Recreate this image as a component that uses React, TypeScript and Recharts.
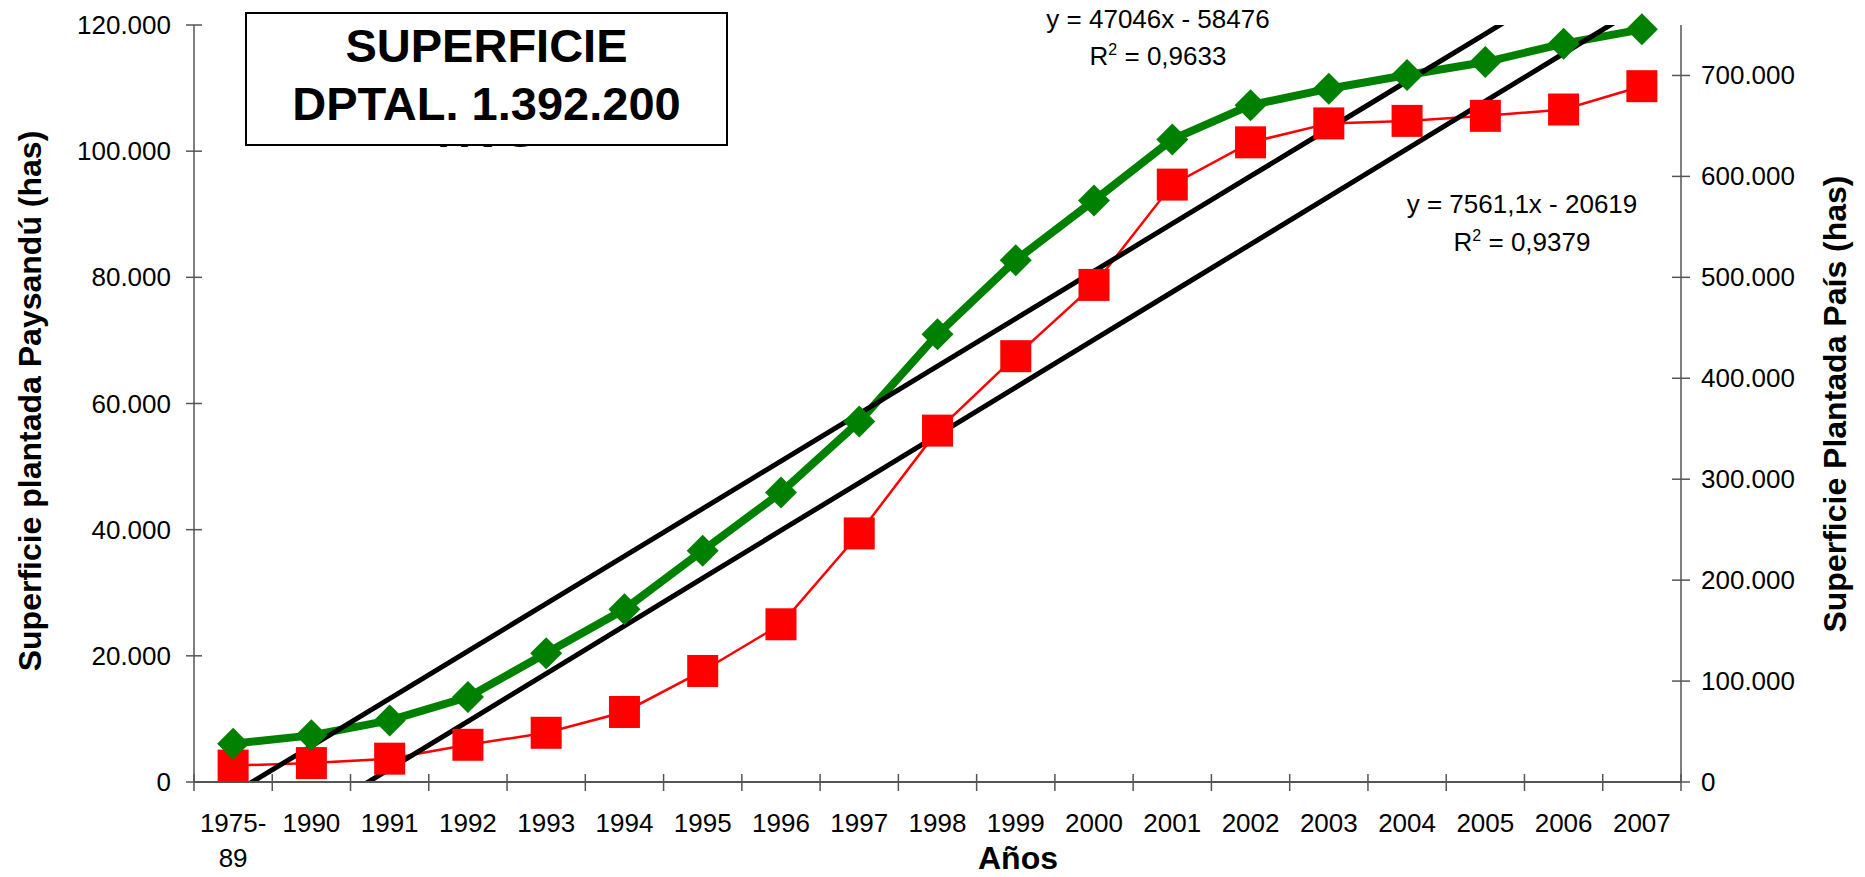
import { LineChart, Line, XAxis, YAxis } from 'recharts';

// categories and values
const years = ['1975-89', '1990', '1991', '1992', '1993', '1994', '1995', '1996', '1997', '1998', '1999', '2000', '2001', '2002', '2003', '2004', '2005', '2006', '2007'];
// Superficie plantada Paysandú (has) - left axis
const paysandu = [2600, 3000, 3700, 5900, 7800, 11100, 17600, 25000, 39400, 55700, 67500, 78800, 94700, 101400, 104400, 104800, 105600, 106600, 110300];
// Superficie plantada País (has) - right axis
const pais = [38000, 46200, 61000, 84100, 127600, 171100, 229200, 286800, 357100, 443500, 517000, 576100, 636600, 670600, 686900, 700400, 713300, 731500, 745700];

const leftTicks = [0, 20000, 40000, 60000, 80000, 100000, 120000];
const rightTicks = [0, 100000, 200000, 300000, 400000, 500000, 600000, 700000];

// linear trendlines, coefficients as printed on the chart
const trendPaysandu = { slope: 7561.1, intercept: -20619, eq: 'y = 7561,1x - 20619', r2: '0,9379' };
const trendPais = { slope: 47046, intercept: -58476, eq: 'y = 47046x - 58476', r2: '0,9633' };

const data = years.map((year, i) => ({
  year,
  paysandu: paysandu[i],
  pais: pais[i],
  trendPaysandu: trendPaysandu.slope * (i + 1) + trendPaysandu.intercept,
  trendPais: trendPais.slope * (i + 1) + trendPais.intercept,
}));

const W = 1865;
const H = 877;
const LEFT_W = 194;
const RIGHT_W = 184;
const TOP = 25;
const XAXIS_H = 95;
const BAND = (W - LEFT_W - RIGHT_W) / years.length;
const FONT = '"Liberation Sans", Arial, sans-serif';
const AXIS = '#555';

const fmt = (v: number) => String(v).replace(/\B(?=(\d{3})+(?!\d))/g, '.');

function LeftTick({ x, y, payload }: any) {
  return (
    <g>
      <line x1={x - 8} x2={x + 8} y1={y} y2={y} stroke={AXIS} strokeWidth={1.5} />
      <text x={x - 23} y={y} textAnchor="end" dominantBaseline="central" fontSize={26} fontFamily={FONT} fill="#000">
        {fmt(payload.value)}
      </text>
    </g>
  );
}

function RightTick({ x, y, payload }: any) {
  return (
    <g>
      <line x1={x - 9} x2={x + 9} y1={y} y2={y} stroke={AXIS} strokeWidth={1.5} />
      <text x={x + 20} y={y} textAnchor="start" dominantBaseline="central" fontSize={26} fontFamily={FONT} fill="#000">
        {fmt(payload.value)}
      </text>
    </g>
  );
}

function YearTick({ x, y, payload, index }: any) {
  const label = String(payload.value);
  const parts = label.includes('-') ? [label.split('-')[0] + '-', label.split('-')[1]] : [label];
  return (
    <g>
      <line x1={x - BAND / 2} x2={x - BAND / 2} y1={y - 8} y2={y + 9} stroke={AXIS} strokeWidth={1.5} />
      {index === years.length - 1 && (
        <line x1={x + BAND / 2} x2={x + BAND / 2} y1={y - 8} y2={y + 9} stroke={AXIS} strokeWidth={1.5} />
      )}
      {parts.map((p, k) => (
        <text key={k} x={x} y={y + 41 + k * 35} textAnchor="middle" dominantBaseline="central" fontSize={26} fontFamily={FONT} fill="#000">
          {p}
        </text>
      ))}
    </g>
  );
}

function Diamond({ cx, cy }: any) {
  if (cx == null || cy == null) return null;
  const r = 16;
  return <path d={`M${cx},${cy - r}L${cx + r},${cy}L${cx},${cy + r}L${cx - r},${cy}Z`} fill="#008000" />;
}

function Square({ cx, cy }: any) {
  if (cx == null || cy == null) return null;
  return <rect x={cx - 15.5} y={cy - 16} width={31} height={32} fill="#FF0000" />;
}

const txt: any = { position: 'absolute', fontFamily: FONT, color: '#000', whiteSpace: 'nowrap', lineHeight: 1 };
const sup: any = { fontSize: 16, position: 'relative', top: -10 };

export default function App() {
  return (
    <div style={{ position: 'relative', width: W, height: H, background: '#fff' }}>
      <style>{'body{margin:0}'}</style>
      <LineChart width={W} height={H} data={data} margin={{ top: TOP, right: 0, bottom: 0, left: 0 }}>
        <XAxis
          dataKey="year"
          interval={0}
          height={XAXIS_H}
          padding={{ left: BAND / 2, right: BAND / 2 }}
          tickLine={false}
          tickSize={0}
          tickMargin={0}
          axisLine={{ stroke: AXIS, strokeWidth: 2 }}
          tick={<YearTick />}
        />
        <YAxis
          yAxisId="left"
          width={LEFT_W}
          domain={[0, 120000]}
          ticks={leftTicks}
          tickLine={false}
          tickSize={0}
          tickMargin={0}
          axisLine={{ stroke: AXIS, strokeWidth: 1.5 }}
          tick={<LeftTick />}
        />
        <YAxis
          yAxisId="right"
          orientation="right"
          width={RIGHT_W}
          domain={[0, 750000]}
          ticks={rightTicks}
          tickLine={false}
          tickSize={0}
          tickMargin={0}
          axisLine={{ stroke: AXIS, strokeWidth: 1.5 }}
          tick={<RightTick />}
        />
        <YAxis yAxisId="leftTrend" hide domain={[0, 120000]} allowDataOverflow />
        <YAxis yAxisId="rightTrend" orientation="right" hide domain={[0, 750000]} allowDataOverflow />
        <Line
          yAxisId="left"
          dataKey="paysandu"
          type="linear"
          stroke="#FF0000"
          strokeWidth={2.5}
          dot={(p: any) => <Square key={p.index} {...p} />}
          activeDot={false}
          isAnimationActive={false}
        />
        <Line
          yAxisId="right"
          dataKey="pais"
          type="linear"
          stroke="#008000"
          strokeWidth={8}
          dot={(p: any) => <Diamond key={p.index} {...p} />}
          activeDot={false}
          isAnimationActive={false}
        />
        <Line yAxisId="rightTrend" dataKey="trendPais" type="linear" stroke="#000" strokeWidth={5} dot={false} activeDot={false} isAnimationActive={false} />
        <Line yAxisId="leftTrend" dataKey="trendPaysandu" type="linear" stroke="#000" strokeWidth={5} dot={false} activeDot={false} isAnimationActive={false} />
      </LineChart>

      {/* title box: third line overflows and is clipped at the bottom border, as in the original */}
      <div
        style={{
          position: 'absolute', left: 245, top: 12, width: 483, height: 134, boxSizing: 'border-box',
          border: '2px solid #000', background: '#fff',
        }}
      />
      <div
        style={{
          position: 'absolute', left: 245, top: 12, width: 483, height: 135, overflow: 'hidden', textAlign: 'center',
          fontFamily: FONT, fontWeight: 'bold', fontSize: 47, lineHeight: '58px', paddingTop: 5, boxSizing: 'border-box',
        }}
      >
        <div>SUPERFICIE</div>
        <div>DPTAL. 1.392.200</div>
        <div>HAS</div>
      </div>

      <div style={{ ...txt, left: 1158, top: 19, fontSize: 26, transform: 'translate(-50%,-50%)' }}>{trendPais.eq}</div>
      <div style={{ ...txt, left: 1158, top: 56, fontSize: 26, transform: 'translate(-50%,-50%)' }}>
        R<span style={sup}>2</span> = {trendPais.r2}
      </div>
      <div style={{ ...txt, left: 1522, top: 204, fontSize: 26, transform: 'translate(-50%,-50%)' }}>{trendPaysandu.eq}</div>
      <div style={{ ...txt, left: 1522, top: 242, fontSize: 26, transform: 'translate(-50%,-50%)' }}>
        R<span style={sup}>2</span> = {trendPaysandu.r2}
      </div>

      <div style={{ ...txt, left: 30, top: 401, fontSize: 32, fontWeight: 'bold', transform: 'translate(-50%,-50%) rotate(-90deg)' }}>
        Superficie plantada Paysandú (has)
      </div>
      <div style={{ ...txt, left: 1835, top: 404, fontSize: 32, fontWeight: 'bold', transform: 'translate(-50%,-50%) rotate(-90deg)' }}>
        Superficie Plantada País (has)
      </div>
      <div style={{ ...txt, left: 1018, top: 858, fontSize: 32, fontWeight: 'bold', transform: 'translate(-50%,-50%)' }}>Años</div>
    </div>
  );
}
